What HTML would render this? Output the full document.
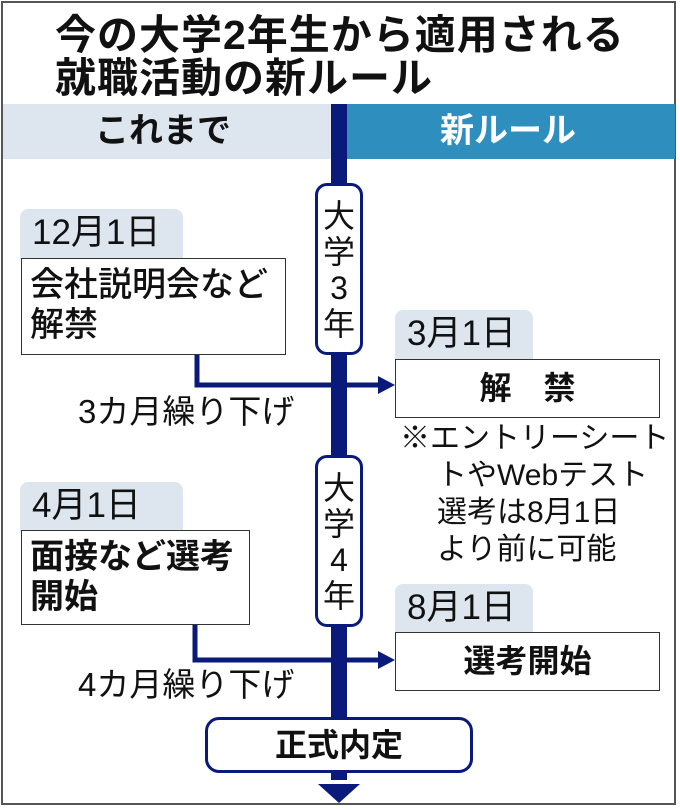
<!DOCTYPE html>
<html><head><meta charset="utf-8"><style>
body{margin:0;width:680px;height:810px;background:#fff;position:relative;overflow:hidden;font-family:"Liberation Sans","Noto Sans CJK JP",sans-serif;color:#111}
.a{position:absolute}
.frame{left:1px;top:1px;width:675px;height:804px;border:2px solid #555;box-sizing:border-box}
.t{font-size:41px;line-height:42px;font-weight:bold;white-space:nowrap}
.tab{background:#dde6ee;border-radius:8px 8px 0 0;font-size:35px;line-height:48px;padding-left:12px;box-sizing:border-box}
.box{background:#fff;border:1.5px solid #333;box-sizing:border-box}
.cap{background:#fff;border:3px solid #0a1a7a;border-radius:12px;box-sizing:border-box;font-size:32px;line-height:36px;text-align:center}
.nv{background:#0a1a7a}
</style></head><body>
<div class="a frame"></div>
<div class="a t" style="left:55px;top:14px;letter-spacing:1px">今の大学2年生から適用される</div>
<div class="a t" style="left:55px;top:57px;letter-spacing:1px">就職活動の新ルール</div>
<div class="a" style="left:3px;top:104px;width:330px;height:55px;background:#dde6ee"></div>
<div class="a" style="left:347px;top:104px;width:328px;height:55px;background:#2e8fbf"></div>
<div class="a" style="left:95px;top:105px;font-size:34px;font-weight:bold;line-height:52px">これまで</div>
<div class="a" style="left:440px;top:105px;font-size:34px;font-weight:bold;line-height:52px;color:#fff">新ルール</div>
<div class="a nv" style="left:331px;top:104px;width:16px;height:676px"></div>
<svg class="a" style="left:0;top:0" width="680" height="810">
<polygon points="318,784 360,784 339,803" fill="#0a1a7a"/>
<polyline points="197,355 197,385 380,385" fill="none" stroke="#0a1a7a" stroke-width="5"/>
<polygon points="378,376 395,385 378,394" fill="#0a1a7a"/>
<polyline points="195,625 195,660 380,660" fill="none" stroke="#0a1a7a" stroke-width="5"/>
<polygon points="378,651 395,660 378,669" fill="#0a1a7a"/>
</svg>
<div class="a cap" style="left:315px;top:183px;width:48px;height:172px;padding-top:12px">大<br>学<br>3<br>年</div>
<div class="a cap" style="left:315px;top:455px;width:48px;height:172px;padding-top:12px">大<br>学<br>4<br>年</div>
<div class="a tab" style="left:20px;top:209px;width:163px;height:50px">12月1日</div>
<div class="a box" style="left:21px;top:258px;width:265px;height:97px;font-size:34px;line-height:40px;padding:6px 0 0 8px;font-weight:500">会社説明会など<br>解禁</div>
<div class="a tab" style="left:395px;top:310px;width:138px;height:50px">3月1日</div>
<div class="a box" style="left:395px;top:359px;width:265px;height:59px;font-size:32px;font-weight:bold;line-height:56px;text-align:center">解　禁</div>
<div class="a" style="left:400px;top:420px;font-size:30px;line-height:37px;white-space:nowrap">※エントリーシート</div>
<div class="a" style="left:437px;top:457px;font-size:30px;line-height:37px;white-space:nowrap">トやWebテスト<br>選考は8月1日<br>より前に可能</div>
<div class="a" style="left:78px;top:393px;font-size:33px;line-height:38px;white-space:nowrap">3カ月繰り下げ</div>
<div class="a tab" style="left:20px;top:482px;width:163px;height:50px">4月1日</div>
<div class="a box" style="left:21px;top:530px;width:229px;height:95px;font-size:34px;font-weight:bold;line-height:40px;padding:6px 0 0 8px">面接など選考<br>開始</div>
<div class="a tab" style="left:395px;top:584px;width:138px;height:50px">8月1日</div>
<div class="a box" style="left:395px;top:632px;width:265px;height:59px;font-size:32px;font-weight:bold;line-height:56px;text-align:center">選考開始</div>
<div class="a" style="left:78px;top:666px;font-size:33px;line-height:38px;white-space:nowrap">4カ月繰り下げ</div>
<div class="a cap" style="left:205px;top:717px;width:268px;height:56px;border-radius:14px;font-weight:bold;font-size:32px;line-height:50px">正式内定</div>
</body></html>
